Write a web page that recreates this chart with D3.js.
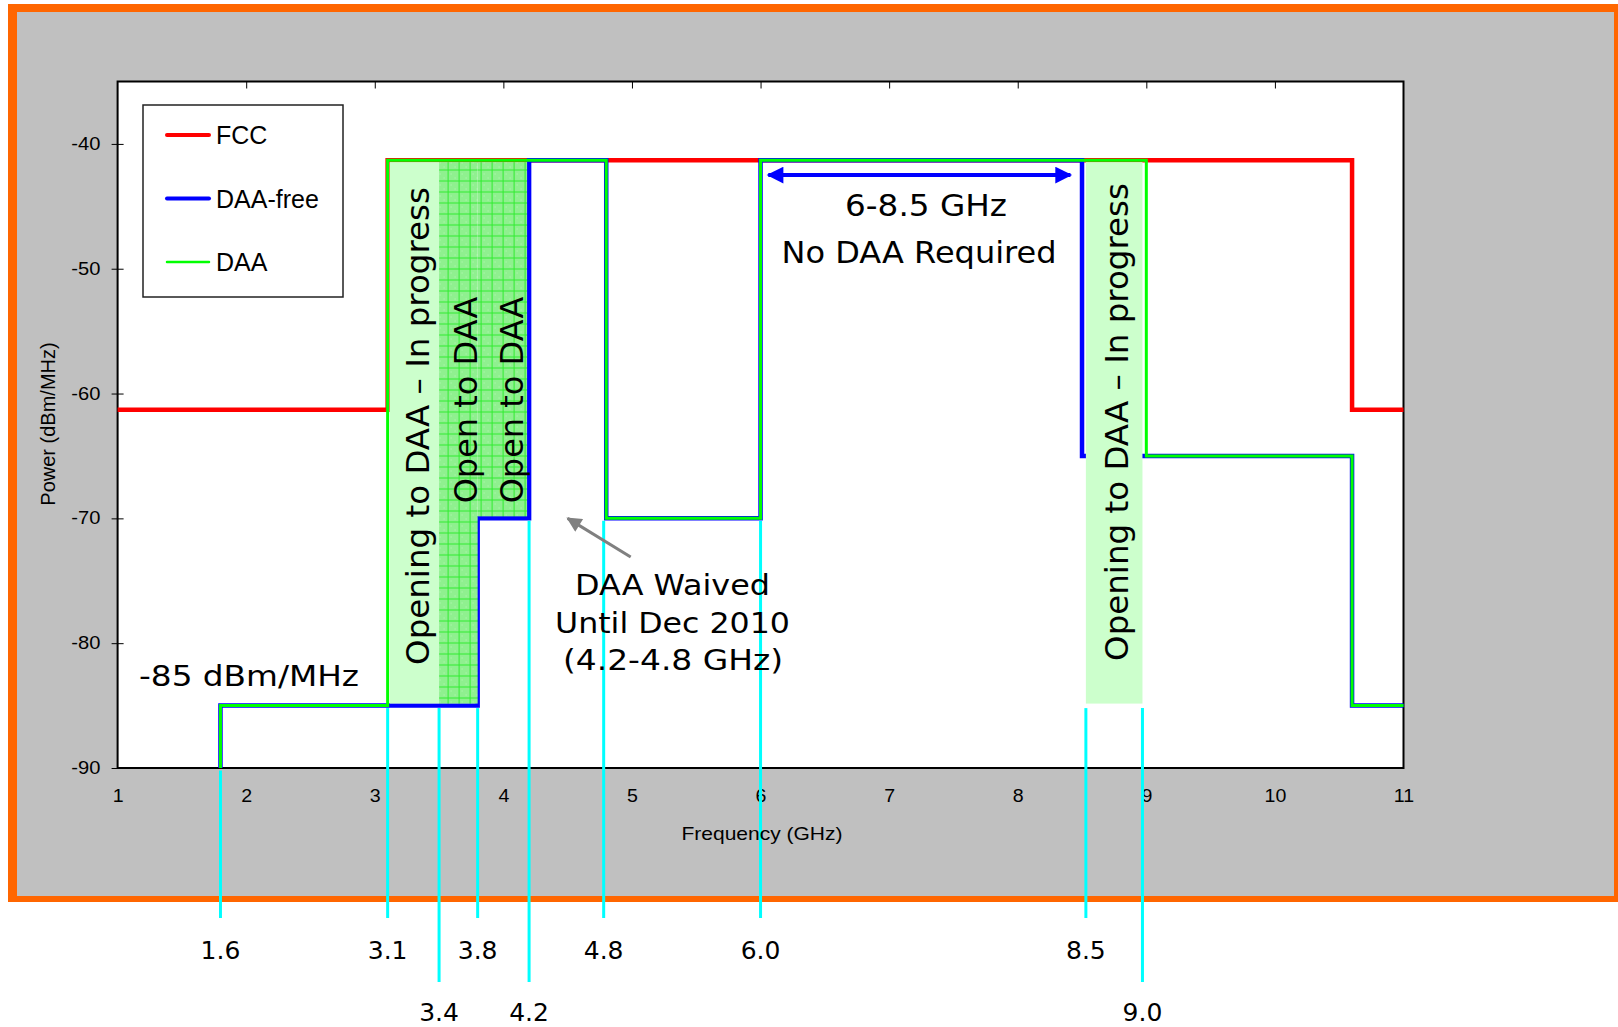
<!DOCTYPE html>
<html>
<head>
<meta charset="utf-8">
<script src="https://cdn.jsdelivr.net/npm/d3@7"></script>
<style>
  body { margin: 0; background: #fff; }
</style>
</head>
<body>
<svg id="chart"></svg>
<script>
// ---- data ----
const freqTicks = [1, 2, 3, 4, 5, 6, 7, 8, 9, 10, 11];
const powerTicks = [-90, -80, -70, -60, -50, -40];
const seriesNames = ["FCC", "DAA-free", "DAA"];

// step series: power holds from each frequency until the next one
const fccFreq = [1, 3.1, 10.6, 11];
const fccPower = [-61.3, -41.3, -61.3, -61.3];
const daaFreeFreq = [1.8, 1.8, 3.8, 4.2, 4.8, 6.0, 8.5, 10.6, 11];
const daaFreePower = [-90, -85, -70, -41.3, -70, -41.3, -65, -85, -85];
const daaFreq = [1.8, 1.8, 3.1, 4.8, 6.0, 9.0, 10.6, 11];
const daaPower = [-90, -85, -41.3, -70, -41.3, -65, -85, -85];

// shaded bands
const bandFrom = [3.1, 3.5, 3.8, 8.53];
const bandTo = [3.5, 3.8, 4.2, 8.97];
const bandTop = [-41.3, -41.3, -41.3, -41.3];
const bandBottom = [-85, -85, -70, -85];
const bandDense = [false, true, true, false];

// cyan frequency markers below the chart
const markerFreq = [1.8, 3.1, 3.5, 3.8, 4.2, 4.78, 6.0, 8.53, 8.97];
const markerLabels = ["1.6", "3.1", "3.4", "3.8", "4.2", "4.8", "6.0", "8.5", "9.0"];
const markerTop = [-90, -85, -85, -85, -70, -70, -70, -85, -85];
const markerRow = [0, 0, 1, 0, 1, 0, 0, 0, 1];

// annotation anchors (frequency, power)
const noDaaArrow = [[6.06, -42.5], [8.41, -42.5]];
const waivedArrow = [[4.99, -73.1], [4.5, -70]];

const width = 1618, height = 1027;
const margin = { left: 117.6, right: 214.5, top: 81.5, bottom: 259 };
const innerWidth = width - margin.left - margin.right;
const innerHeight = height - margin.top - margin.bottom;

const svg = d3.select("#chart").attr("width", width).attr("height", height);

// slide frame
svg.append("rect").attr("x", 8).attr("y", 4).attr("width", 1610).attr("height", 898).attr("fill", "#ff6600");
svg.append("rect").attr("x", 17).attr("y", 12).attr("width", 1597).attr("height", 884).attr("fill", "#c0c0c0");

const defs = svg.append("defs");
const pat = defs.append("pattern").attr("id", "grid").attr("patternUnits", "userSpaceOnUse")
  .attr("width", 11).attr("height", 11);
pat.append("rect").attr("width", 11).attr("height", 11).attr("fill", "#8ff08f");
pat.append("rect").attr("x", 3).attr("y", 4).attr("width", 1).attr("height", 1).attr("fill", "#b8f8b8");
pat.append("rect").attr("x", 7).attr("y", 8).attr("width", 1).attr("height", 1).attr("fill", "#b8f8b8");
pat.append("rect").attr("width", 1).attr("height", 11).attr("fill", "#30ec30");
pat.append("rect").attr("width", 11).attr("height", 1).attr("fill", "#30ec30");

const chart = svg.append("g").attr("transform", `translate(${margin.left},${margin.top})`);

const x = d3.scaleLinear().domain([1, 11]).range([0, innerWidth]);
const y = d3.scaleLinear().domain([-90, -35]).range([innerHeight, 0]);

chart.append("rect").attr("width", innerWidth).attr("height", innerHeight).attr("fill", "#fff");

// axes
const yAxis = d3.axisLeft(y).tickValues(powerTicks).tickFormat(d => `${d}`)
  .tickSizeInner(6).tickSizeOuter(0).tickPadding(9);
const gy = chart.append("g").call(yAxis);
gy.select(".domain").remove();
gy.selectAll(".tick line").attr("x1", 6).attr("stroke", "#000");
gy.selectAll(".tick text").attr("font-family", "Liberation Sans, Arial, sans-serif")
  .attr("font-size", 17.5).attr("transform", "scale(1.15,1)").attr("fill", "#000");

const xAxis = d3.axisBottom(x).tickValues(freqTicks).tickFormat(d => `${d}`).tickSize(0).tickPadding(22);
const gx = chart.append("g").attr("transform", `translate(0,${innerHeight})`).call(xAxis);
gx.select(".domain").remove();
gx.selectAll(".tick text").attr("font-family", "Liberation Sans, Arial, sans-serif")
  .attr("font-size", 17.5).attr("transform", "scale(1.12,1)").attr("fill", "#000");

const topAxis = d3.axisTop(x).tickValues(freqTicks.slice(1, -1)).tickSize(-7).tickFormat("");
const gt = chart.append("g").call(topAxis);
gt.select(".domain").remove();

chart.append("rect").attr("width", innerWidth).attr("height", innerHeight)
  .attr("fill", "none").attr("stroke", "#000").attr("stroke-width", 2);

// series
const line = d3.line().x(d => x(d[0])).y(d => y(d[1])).curve(d3.curveStepAfter);
const series = [
  { name: seriesNames[0], pts: d3.zip(fccFreq, fccPower), color: "#ff0000", w: 4.5 },
  { name: seriesNames[1], pts: d3.zip(daaFreeFreq, daaFreePower), color: "#0000ff", w: 4.5 },
  { name: seriesNames[2], pts: d3.zip(daaFreq, daaPower), color: "#00ff00", w: 3 },
];
chart.selectAll(".series").data(series).join("path")
  .attr("class", "series")
  .attr("d", d => line(d.pts))
  .attr("fill", "none")
  .attr("stroke", d => d.color)
  .attr("stroke-width", d => d.w)
  .attr("stroke-linejoin", "miter");

// shaded bands (drawn over the lines, inset from them)
const inset = 2;
chart.selectAll(".band").data(d3.range(bandFrom.length)).join("rect")
  .attr("class", "band")
  .attr("x", i => x(bandFrom[i]) + (i === 0 ? inset : 0))
  .attr("y", i => y(bandTop[i]) + inset)
  .attr("width", i => x(bandTo[i]) - x(bandFrom[i]) - (i === 0 ? inset : 0) - (i === 2 ? inset : 0))
  .attr("height", i => y(bandBottom[i]) - y(bandTop[i]) - 2 * inset)
  .attr("fill", i => bandDense[i] ? "url(#grid)" : "#ccffcc");

// cyan markers
const rowBottom = [918 - margin.top, 982 - margin.top];
const rowLabel = [959 - margin.top, 1021 - margin.top];
const mk = chart.selectAll(".marker").data(d3.range(markerFreq.length)).join("g").attr("class", "marker");
mk.append("line")
  .attr("x1", i => x(markerFreq[i])).attr("x2", i => x(markerFreq[i]))
  .attr("y1", i => y(markerTop[i]) + 2.5)
  .attr("y2", i => rowBottom[markerRow[i]])
  .attr("stroke", "#00ffff").attr("stroke-width", 3);
mk.append("text")
  .attr("x", i => x(markerFreq[i]))
  .attr("y", i => rowLabel[markerRow[i]])
  .attr("text-anchor", "middle")
  .attr("font-family", "DejaVu Sans, Verdana, sans-serif")
  .attr("font-size", 25)
  .text(i => markerLabels[i]);

// annotations
function label(parent, str, cx, by, size, len) {
  const t = parent.append("text").attr("x", cx).attr("y", by)
    .attr("text-anchor", "middle")
    .attr("font-family", "DejaVu Sans, Verdana, sans-serif")
    .attr("font-size", size).attr("fill", "#000").text(str);
  if (len) t.attr("textLength", len).attr("lengthAdjust", "spacingAndGlyphs");
  return t;
}
function vlabel(parent, str, bx, cy, size) {
  return parent.append("text")
    .attr("transform", `translate(${bx},${cy}) rotate(-90)`)
    .attr("text-anchor", "middle")
    .attr("font-family", "DejaVu Sans, Verdana, sans-serif")
    .attr("font-size", size).attr("fill", "#000").text(str);
}

const ann = svg.append("g");
vlabel(ann, "Opening to DAA \u2013 In progress", 429, 426, 32.5);
vlabel(ann, "Open to DAA", 476.5, 400, 32);
vlabel(ann, "Open to DAA", 522.5, 400, 32);
vlabel(ann, "Opening to DAA \u2013 In progress", 1128, 422, 32.5);

label(ann, "6-8.5 GHz", 926, 216, 29.5, 162);
label(ann, "No DAA Required", 919, 263, 29.5, 275);
label(ann, "DAA Waived", 672.5, 595, 29, 195);
label(ann, "Until Dec 2010", 672.5, 633, 29, 235);
label(ann, "(4.2-4.8 GHz)", 673, 670, 29, 220);
label(ann, "-85 dBm/MHz", 249, 686, 28.5, 220);

// blue double arrow
defs.append("marker").attr("id", "blueHead").attr("viewBox", "0 0 10 10")
  .attr("refX", 9).attr("refY", 5).attr("markerWidth", 5).attr("markerHeight", 4.2)
  .attr("orient", "auto-start-reverse").attr("markerUnits", "strokeWidth")
  .append("path").attr("d", "M0,0 L10,5 L0,10 Z").attr("fill", "#0000ff");
chart.append("line")
  .attr("x1", x(noDaaArrow[0][0])).attr("y1", y(noDaaArrow[0][1]))
  .attr("x2", x(noDaaArrow[1][0])).attr("y2", y(noDaaArrow[1][1]))
  .attr("stroke", "#0000ff").attr("stroke-width", 4)
  .attr("marker-start", "url(#blueHead)").attr("marker-end", "url(#blueHead)");

// gray pointer arrow
defs.append("marker").attr("id", "grayHead").attr("viewBox", "0 0 10 10")
  .attr("refX", 9).attr("refY", 5).attr("markerWidth", 6).attr("markerHeight", 5)
  .attr("orient", "auto").attr("markerUnits", "strokeWidth")
  .append("path").attr("d", "M0,0 L10,5 L0,10 Z").attr("fill", "#808080");
chart.append("line")
  .attr("x1", x(waivedArrow[0][0])).attr("y1", y(waivedArrow[0][1]))
  .attr("x2", x(waivedArrow[1][0])).attr("y2", y(waivedArrow[1][1]))
  .attr("stroke", "#808080").attr("stroke-width", 3)
  .attr("marker-end", "url(#grayHead)");

// axis titles
svg.append("text").attr("x", 762).attr("y", 840).attr("text-anchor", "middle")
  .attr("font-family", "Liberation Sans, Arial, sans-serif").attr("font-size", 19)
  .attr("textLength", 161).attr("lengthAdjust", "spacingAndGlyphs")
  .text("Frequency (GHz)");
svg.append("text").attr("transform", "translate(55,424) rotate(-90)").attr("text-anchor", "middle")
  .attr("font-family", "Liberation Sans, Arial, sans-serif").attr("font-size", 20)
  .text("Power (dBm/MHz)");

// legend
const legend = svg.append("g").attr("transform", "translate(143,105)");
legend.append("rect").attr("width", 200).attr("height", 192)
  .attr("fill", "#fff").attr("stroke", "#222").attr("stroke-width", 1.5);
const li = legend.selectAll(".item").data(series).join("g").attr("class", "item")
  .attr("transform", (d, i) => `translate(0,${30 + i * 63.5})`);
li.append("line").attr("x1", 24).attr("x2", 66)
  .attr("stroke", d => d.color).attr("stroke-width", d => d.w - 0.5).attr("stroke-linecap", "round");
li.append("text").attr("x", 73).attr("y", 9)
  .attr("font-family", "Liberation Sans, Arial, sans-serif").attr("font-size", 25)
  .text(d => d.name);
</script>
</body>
</html>
